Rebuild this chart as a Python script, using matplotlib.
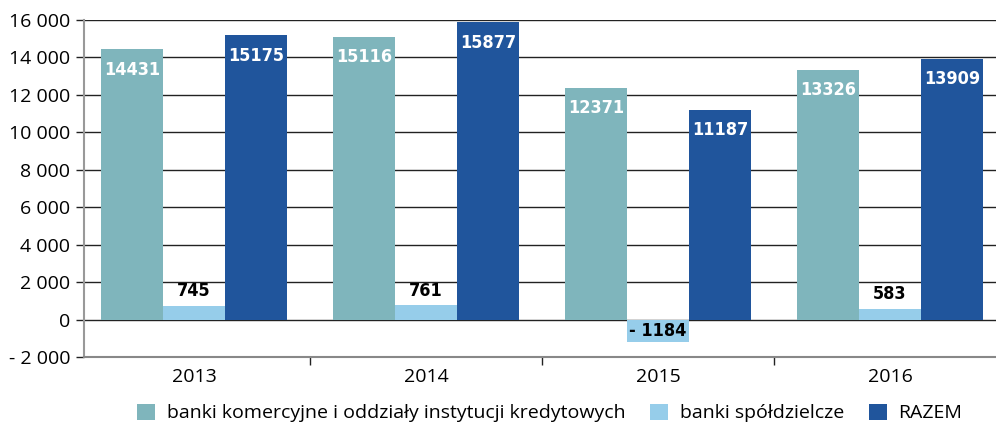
import matplotlib.pyplot as plt
import numpy as np

years = ["2013", "2014", "2015", "2016"]
komercyjne = [14431, 15116, 12371, 13326]
spoldzielcze = [745, 761, -1184, 583]
razem = [15175, 15877, 11187, 13909]
series_names = ["banki komercyjne i oddziały instytucji kredytowych",
                "banki spółdzielcze", "RAZEM"]
colors = ["#7fb5bc", "#96cdea", "#20559c"]

plt.rcParams['font.family'] = ['Open Sans', 'DejaVu Sans']

fig = plt.figure(figsize=(9.96, 4.28), dpi=100)
ax = fig.add_axes([84 / 996, 1 - 357 / 428, 912 / 996, 337 / 428])

x = np.arange(len(years))
w = 0.267

def fmt(v):
    s = f"{abs(v):,}".replace(",", " ")
    return ("- " + s) if v < 0 else s

lab = dict(fontsize=13, fontweight='bold', family='DejaVu Sans', fontstretch='condensed', zorder=4)

for i, (vals, col) in enumerate(zip([komercyjne, spoldzielcze, razem], colors)):
    pos = x + (i - 1) * w
    ax.bar(pos, vals, width=w, color=col, label=series_names[i], zorder=3)
    for p, v in zip(pos, vals):
        if i == 1:
            if v >= 0:
                ax.text(p, v + 300, str(v), ha='center', va='bottom', color='black', **lab)
            else:
                ax.text(p, v / 2, "- " + str(abs(v)), ha='center', va='center', color='black', **lab)
        else:
            ax.text(p, v - 600, str(v), ha='center', va='top', color='white', **lab)

ax.set_ylim(-2000, 16000)
ax.set_xlim(-0.474, 3.457)
yt = np.arange(-2000, 16001, 2000)
ax.set_yticks(yt)
ax.set_yticklabels([fmt(v) for v in yt], fontsize=14)
ax.yaxis.grid(True, color='#222222', linewidth=1.0, zorder=0)
ax.tick_params(axis='y', length=6, width=1, color='#222222', pad=4)

ax.set_xticks(x)
ax.set_xticklabels(years, fontsize=14)
ax.set_xticks([0.5, 1.5, 2.5], minor=True)
ax.tick_params(axis='x', which='major', length=0, pad=8)
ax.tick_params(axis='x', which='minor', length=6, width=1, color='#222222')

for s in ['top', 'right']:
    ax.spines[s].set_visible(False)
ax.spines['left'].set_color('#999999')
ax.spines['left'].set_linewidth(1.5)
ax.spines['bottom'].set_color('#888888')
ax.spines['bottom'].set_linewidth(1.5)

fig.legend(loc='lower center', bbox_to_anchor=(0.552, -0.028), ncol=3, frameon=False,
           fontsize=14, handlelength=0.9, handleheight=0.9, handletextpad=0.6,
           columnspacing=1.3)

fig.savefig("out.png", dpi=100)
